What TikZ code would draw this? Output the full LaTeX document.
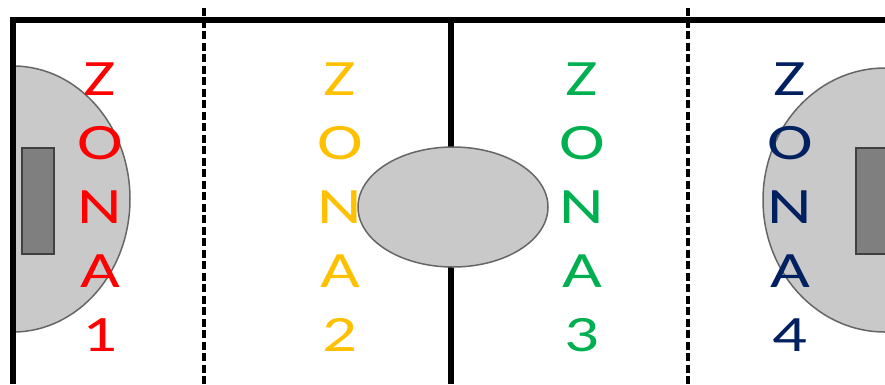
\documentclass[tikz,border=0pt]{standalone}
\usepackage{fontspec}
\newfontfamily\zonefont{Carlito}
\definecolor{zonered}{HTML}{FF0000}
\definecolor{zoneyellow}{HTML}{FFC000}
\definecolor{zonegreen}{HTML}{00B050}
\definecolor{zoneblue}{HTML}{002060}
\definecolor{areagray}{HTML}{C9C9C9}
\definecolor{goalgray}{HTML}{7F7F7F}
\tikzset{
  area/.style={fill=areagray,draw=black!60,line width=1.5pt},
  goalbox/.style={fill=goalgray,draw=black!75,line width=1.2pt},
  pitchline/.style={line width=6pt,black},
  zoneline/.style={line width=4.5pt,black,dash pattern=on 8pt off 3.5pt},
  zonetext/.style={font=\zonefont\fontsize{51}{60}\selectfont,xscale=1.35,inner sep=0pt,anchor=base}
}
\begin{document}
\begin{tikzpicture}[x=1pt,y=-1pt]
    \useasboundingbox (0,0) rectangle (885,384);

    % --- Goal areas ---
    \begin{scope}
      \clip (13,0) rectangle (885,384);
      \draw[area] (13,199) ellipse[x radius=117, y radius=133];
      \draw[area] (885,200) ellipse[x radius=122, y radius=132];
    \end{scope}
    \draw[goalbox] (22,148) rectangle (54,254);
    \draw[goalbox] (856,148) rectangle (890,254);

    % --- Pitch lines ---
    \coordinate (tl) at (13,20);
    \coordinate (tr) at (885,20);
    \coordinate (bl) at (13,384);
    \coordinate (ct) at (451,20);
    \coordinate (cb) at (451,384);
    \draw[pitchline] (bl) -- (tl) -- (tr);
    \draw[pitchline] (ct) -- (cb);
    \draw[zoneline] (204,8) -- (204,384);
    \draw[zoneline] (688,8) -- (688,384);

    % --- Centre circle ---
    \draw[area] (453,207) ellipse[x radius=95, y radius=60];

    % --- Zone labels ---
    \foreach \cx/\col/\num in {100/zonered/1, 340/zoneyellow/2, 582/zonegreen/3, 790/zoneblue/4} {
      \foreach \ch [count=\i] in {Z,O,N,A,\num}
        \node[zonetext,text=\col] (zona\num-\i) at (\cx, 31+64*\i) {\ch};
    }

\end{tikzpicture}
\end{document}
